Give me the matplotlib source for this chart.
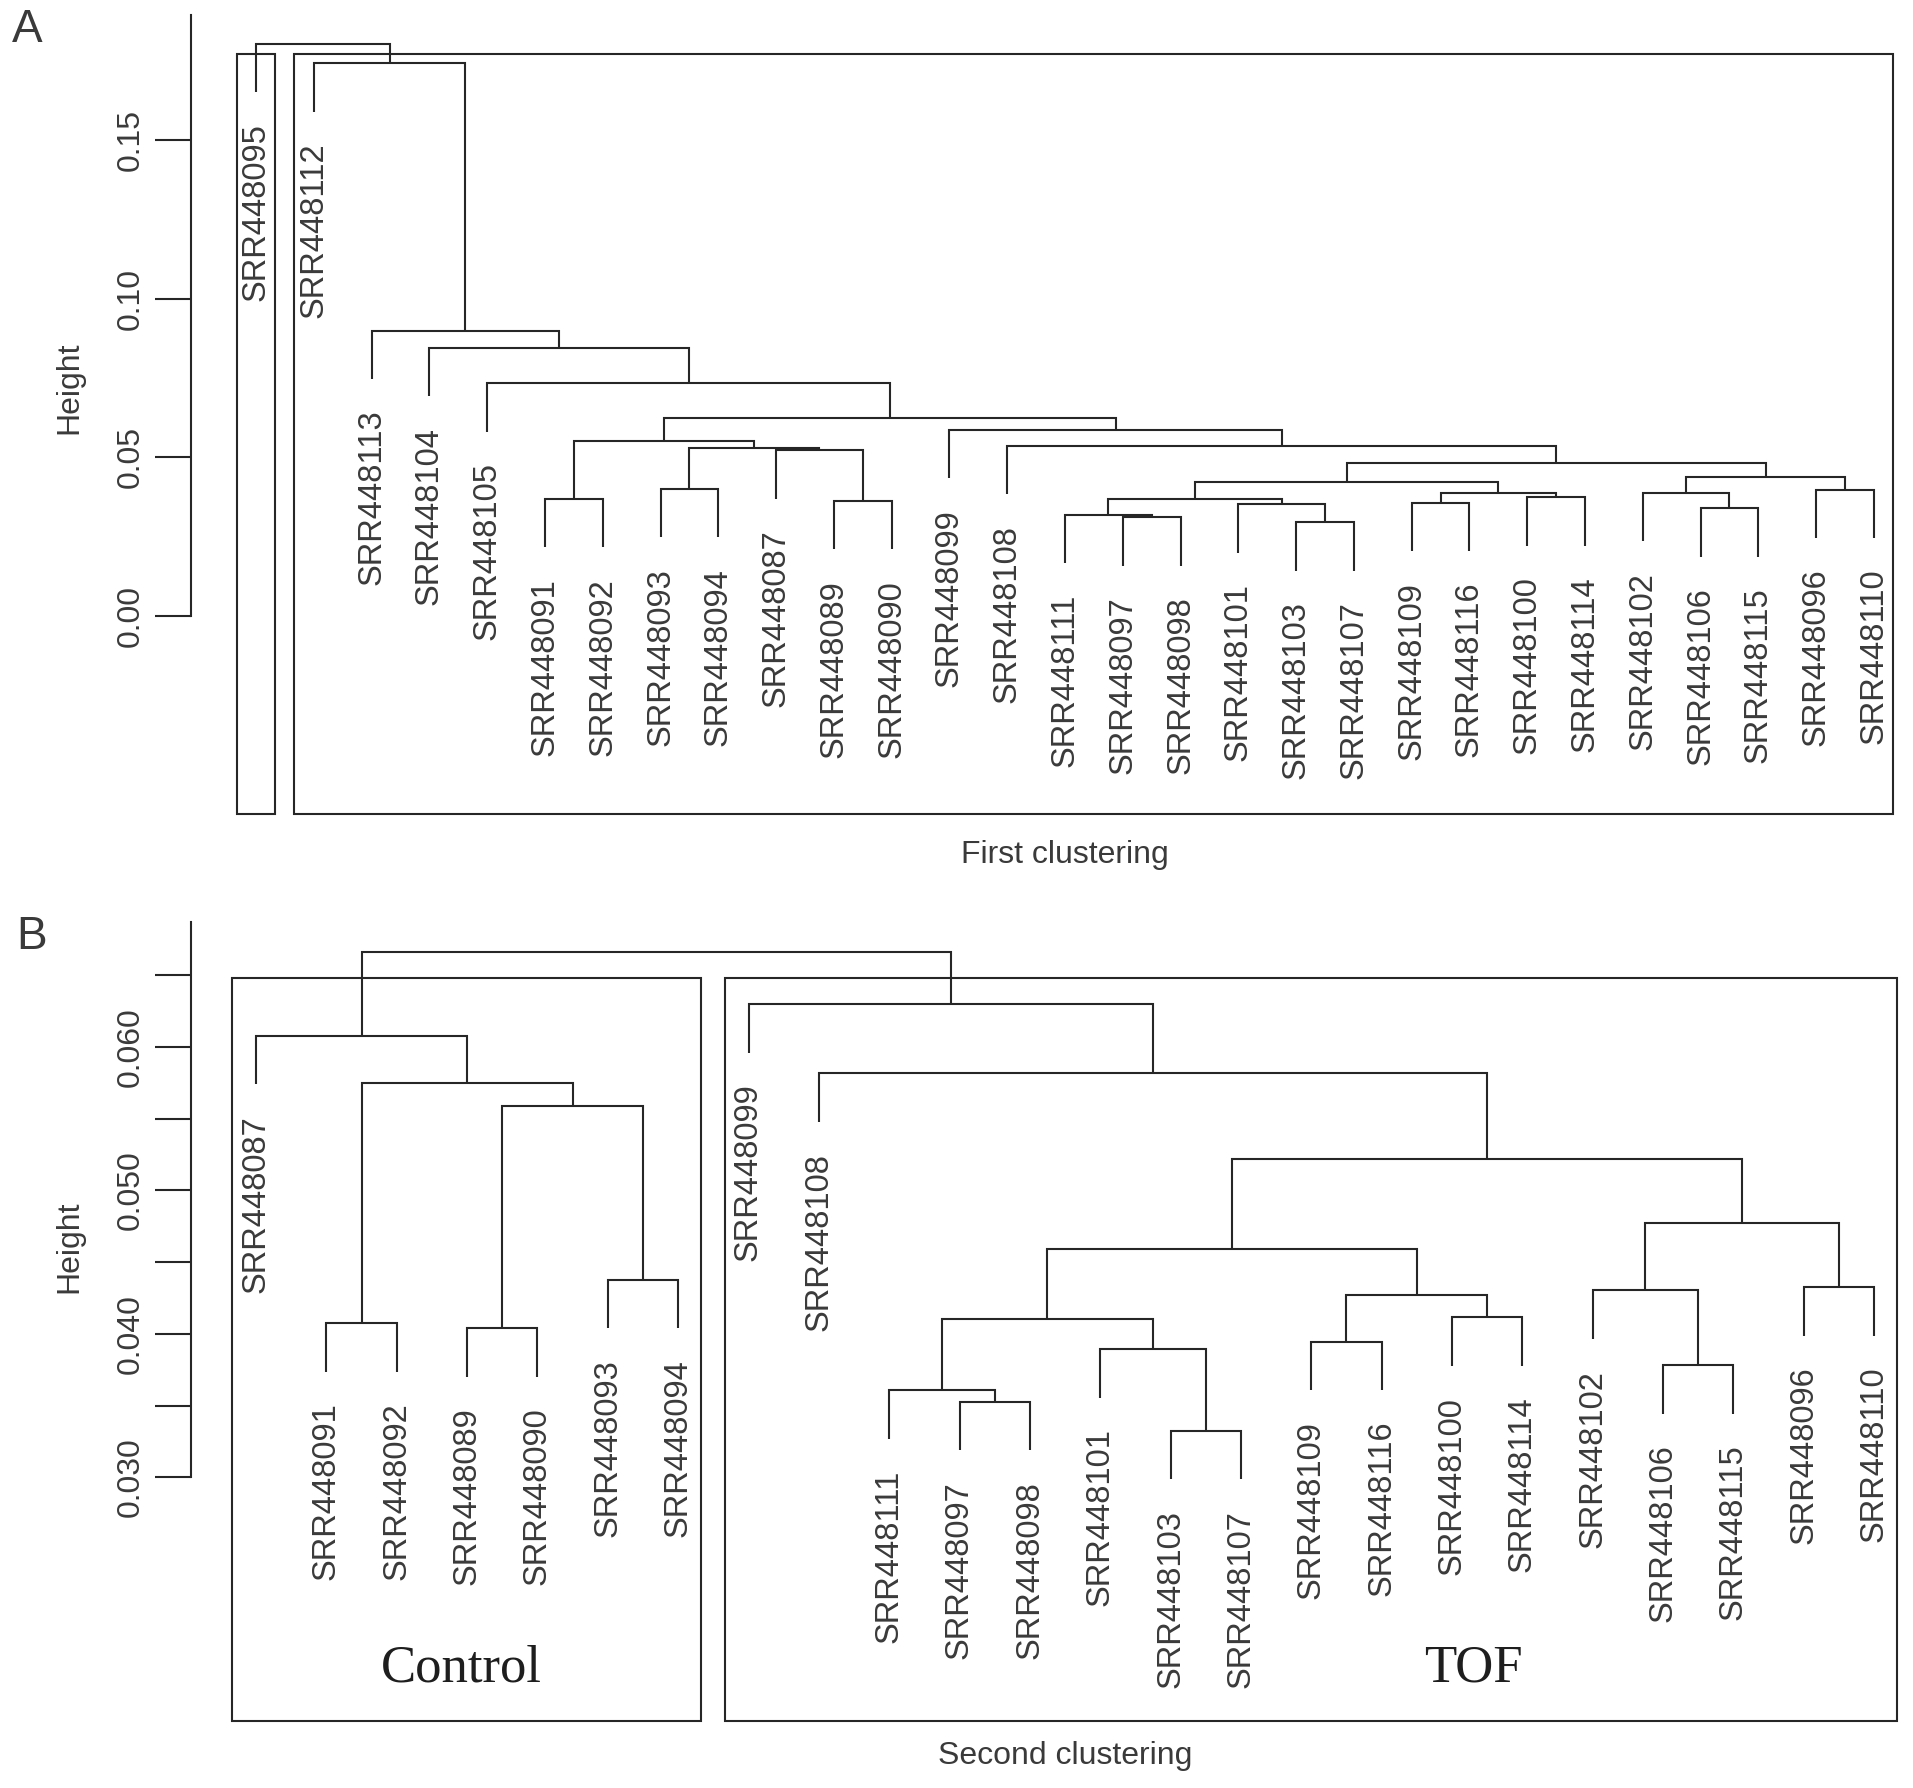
import matplotlib.pyplot as plt
from matplotlib.patches import Rectangle

plt.rcParams['font.family'] = ['Liberation Sans', 'DejaVu Sans']

line_col = '#262626'
text_col = '#3a3a3a'

# ------------------------------------------------------------------------------
# A: first clustering (leaf order as drawn, merges like R's hclust$merge)
labels_a = ['SRR448095', 'SRR448112', 'SRR448113', 'SRR448104', 'SRR448105',
            'SRR448091', 'SRR448092', 'SRR448093', 'SRR448094', 'SRR448087',
            'SRR448089', 'SRR448090', 'SRR448099', 'SRR448108', 'SRR448111',
            'SRR448097', 'SRR448098', 'SRR448101', 'SRR448103', 'SRR448107',
            'SRR448109', 'SRR448116', 'SRR448100', 'SRR448114', 'SRR448102',
            'SRR448106', 'SRR448115', 'SRR448096', 'SRR448110']
merge_a = [(-19, -20), (-16, -17), (-15, 2), (-26, -27), (-18, 1), (-21, -22),
           (-11, -12), (-6, -7), (3, 5), (-23, -24), (6, 10), (-25, 4),
           (-28, -29), (-8, -9), (9, 11), (12, 13), (15, 16), (-10, 7),
           (14, 18), (-14, 17), (8, 19), (-13, 20), (21, 22), (-5, 23),
           (-4, 24), (-3, 25), (-2, 26), (-1, 27)]
height_a = [0.0295, 0.0312, 0.0319, 0.0340, 0.0353, 0.0357, 0.0363, 0.0369,
            0.0370, 0.0374, 0.0387, 0.0389, 0.0398, 0.0401, 0.0422, 0.0437,
            0.0482, 0.0523, 0.0529, 0.0537, 0.0552, 0.0587, 0.0625, 0.0734,
            0.0846, 0.0900, 0.1743, 0.1804]
groups_a = [(1, 1), (2, 29)]
ticks_a = [0.00, 0.05, 0.10, 0.15]
ticklabels_a = ['0.00', '0.05', '0.10', '0.15']

# B: second clustering
labels_b = ['SRR448087', 'SRR448091', 'SRR448092', 'SRR448089', 'SRR448090',
            'SRR448093', 'SRR448094', 'SRR448099', 'SRR448108', 'SRR448111',
            'SRR448097', 'SRR448098', 'SRR448101', 'SRR448103', 'SRR448107',
            'SRR448109', 'SRR448116', 'SRR448100', 'SRR448114', 'SRR448102',
            'SRR448106', 'SRR448115', 'SRR448096', 'SRR448110']
merge_b = [(-14, -15), (-11, -12), (-10, 2), (-21, -22), (-13, 1), (-16, -17),
           (-4, -5), (-2, -3), (3, 5), (-18, -19), (6, 10), (-20, 4),
           (-23, -24), (-6, -7), (9, 11), (12, 13), (15, 16), (7, 14),
           (8, 18), (-9, 17), (-1, 19), (-8, 20), (21, 22)]
height_b = [0.03326, 0.03529, 0.03606, 0.03785, 0.03895, 0.03947, 0.04040,
            0.04075, 0.04107, 0.04116, 0.04269, 0.04303, 0.04329, 0.04379,
            0.04592, 0.04771, 0.05221, 0.05586, 0.05751, 0.05815, 0.06078,
            0.06300, 0.06664]
groups_b = [(1, 7), (8, 24)]
group_names_b = ['Control', 'TOF']
ticks_b = [0.030, 0.035, 0.040, 0.045, 0.050, 0.055, 0.060, 0.065]
ticklabels_b = ['0.030', '', '0.040', '', '0.050', '', '0.060', '']


def draw_tree(ax, labels, merges, heights, hang):
    mid = []
    leaf_end = {}
    for (a, b), h in zip(merges, heights):
        xs, tops = [], []
        for c in (a, b):
            if c < 0:
                xs.append(-c)
                tops.append(h - hang)
                leaf_end[-c] = h - hang
            else:
                xs.append(mid[c - 1])
                tops.append(heights[c - 1])
        ax.plot([xs[0], xs[0], xs[1], xs[1]], [tops[0], h, h, tops[1]],
                color=line_col, lw=1.5, solid_joinstyle='miter',
                solid_capstyle='butt')
        mid.append((xs[0] + xs[1]) / 2)
    for i, lab in enumerate(labels, 1):
        ax.annotate(lab, xy=(i, leaf_end[i]), xytext=(0, -22),
                    textcoords='offset points', rotation=90, ha='center',
                    va='top', fontsize=23.5, color=text_col)


def draw_rects(ax, groups, heights):
    cut = (heights[-1] + heights[-2]) / 2
    bottom = ax.get_ylim()[0]
    for g0, g1 in groups:
        ax.add_patch(Rectangle((g0 - 0.34, bottom), g1 - g0 + 0.67, cut - bottom,
                               fill=False, ec=line_col, lw=1.5, clip_on=False))


def style_axis(ax, ticks, ticklabels, bounds):
    for s in ['top', 'right', 'bottom']:
        ax.spines[s].set_visible(False)
    ax.spines['left'].set_bounds(*bounds)
    ax.spines['left'].set_linewidth(1.5)
    ax.spines['left'].set_color(line_col)
    ax.set_xticks([])
    ax.set_yticks(ticks)
    ax.set_yticklabels(ticklabels, rotation=90, va='center')
    ax.tick_params(axis='y', length=26, width=1.5, pad=7, labelsize=23,
                   color=line_col, labelcolor=text_col)
    ax.patch.set_alpha(0)


fig = plt.figure(figsize=(19.13, 17.88), dpi=100)

ax_a = fig.add_axes([0.1001, 0.5450, 0.8999, 0.4468])
ax_a.set_xlim(-0.119, 29.676)
ax_a.set_ylim(-0.0623, 0.1896)
draw_tree(ax_a, labels_a, merge_a, height_a, 0.0153)
draw_rects(ax_a, groups_a, height_a)
style_axis(ax_a, ticks_a, ticklabels_a, (0.0, 0.1896))

ax_b = fig.add_axes([0.1001, 0.0375, 0.8999, 0.4468])
ax_b.set_xlim(0.081, 24.555)
ax_b.set_ylim(0.01304, 0.06869)
draw_tree(ax_b, labels_b, merge_b, height_b, 0.0034)
draw_rects(ax_b, groups_b, height_b)
style_axis(ax_b, ticks_b, ticklabels_b, (0.030, 0.06869))

# group names sit near the bottom of each box
for xpos, name in zip([3.92, 18.31], group_names_b):
    ax_b.text(xpos, 0.0158, name, ha='center', va='baseline',
              fontsize=38, color='#1e1e1e', family='Liberation Serif')

fig.text(57 / 1568, 1 - 318 / 1466, 'Height', rotation=90, ha='center',
         va='center', fontsize=23, color=text_col)
fig.text(57 / 1568, 1 - 1022 / 1466, 'Height', rotation=90, ha='center',
         va='center', fontsize=23, color=text_col)
fig.text(873 / 1568, 1 - 701 / 1466, 'First clustering', ha='center',
         va='center', fontsize=23, color=text_col)
fig.text(873 / 1568, 1 - 1440 / 1466, 'Second clustering', ha='center',
         va='center', fontsize=23, color=text_col)
fig.text(22 / 1568, 1 - 25 / 1466, 'A', ha='center', va='center',
         fontsize=33, color=text_col)
fig.text(26 / 1568, 1 - 768 / 1466, 'B', ha='center', va='center',
         fontsize=33, color=text_col)

fig.savefig('out.png', dpi=100, facecolor='white')
